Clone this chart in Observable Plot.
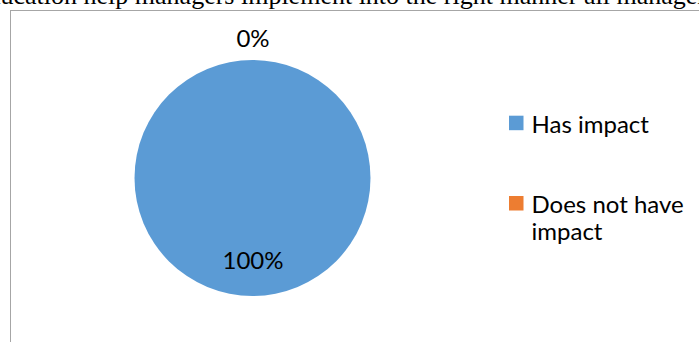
<!DOCTYPE html>
<html><head><meta charset="utf-8">
<script src="https://cdn.jsdelivr.net/npm/d3@7"></script>
<script src="https://cdn.jsdelivr.net/npm/@observablehq/plot@0.6"></script>
<style>
html,body{margin:0;padding:0;background:#fff;}
#wrap{position:relative;width:699px;height:342px;overflow:hidden;background:#fff;}
#title{position:absolute;left:-24px;top:-17px;font-family:"Liberation Serif","Times New Roman",serif;font-size:26px;line-height:26px;white-space:nowrap;color:#000;}
#box{position:absolute;left:10px;top:10px;width:720px;height:360px;border-left:1px solid #a6a6a6;border-top:1px solid #a6a6a6;}
#chart{position:absolute;left:11px;top:11px;}
</style></head><body>
<div id="wrap">
  <div id="title">education help managers implement into the right manner all management</div>
  <div id="box"></div>
  <div id="chart"></div>
</div>
<script>
// ---- data ----
const categories = ["Has impact", "Does not have impact"];
const values = [100, 0];
const colors = ["#5B9BD5", "#ED7D31"];

const data = categories.map((c, i) => ({category: c, value: values[i]}));
const total = d3.sum(values);

// ---- layout ----
const W = 688, H = 331;
const cx = 241.5, cy = 167, R = 118;
const fontUI = "Lato, 'Open Sans', sans-serif";
const fs = 24;

const arcs = d3.pie().sort(null).value(d => d.value)(data);
const arcGen = d3.arc().innerRadius(0).outerRadius(R);

// data labels: inside at 0.7R, zero slices outside the rim
const labelData = arcs.map(a => {
  const mid = (a.startAngle + a.endAngle) / 2;
  const rr = a.value === 0 ? R + 21 : R * 0.7;
  return {
    text: Math.round(a.value / total * 100) + "%",
    x: cx + rr * Math.sin(mid),
    y: cy - rr * Math.cos(mid)
  };
});

// legend
const legX = 498, legSize = 14.5, legTops = [104.7, 185];
const legendData = data.map((d, i) => ({category: d.category, top: legTops[i]}));

function pieMark(index, scales) {
  const color = scales.color || (c => colors[categories.indexOf(c)]);
  const g = d3.create("svg:g").attr("transform", `translate(${cx},${cy})`);
  g.selectAll("path").data(arcs).join("path")
    .attr("d", arcGen)
    .attr("fill", d => color(d.data.category));
  return g.node();
}

const chart = Plot.plot({
  width: W, height: H,
  margin: 0,
  x: {type: "identity", axis: null},
  y: {type: "identity", axis: null},
  color: {domain: categories, range: colors},
  style: {fontFamily: fontUI, background: "transparent"},
  marks: [
    pieMark,
    Plot.text(labelData, {x: "x", y: "y", text: "text", fontSize: fs, fill: "#000", fontFamily: fontUI}),
    Plot.rect(legendData, {x1: () => legX, x2: () => legX + legSize, y1: "top", y2: d => d.top + legSize, fill: "category"}),
    Plot.text(legendData, {
      x: () => legX + 22, y: d => d.top - 2.8, text: "category",
      textAnchor: "start", lineAnchor: "top", lineWidth: 7, lineHeight: 1.14,
      fontSize: fs, fill: "#000", fontFamily: fontUI
    })
  ]
});
document.getElementById("chart").appendChild(chart);
</script>
</body></html>
